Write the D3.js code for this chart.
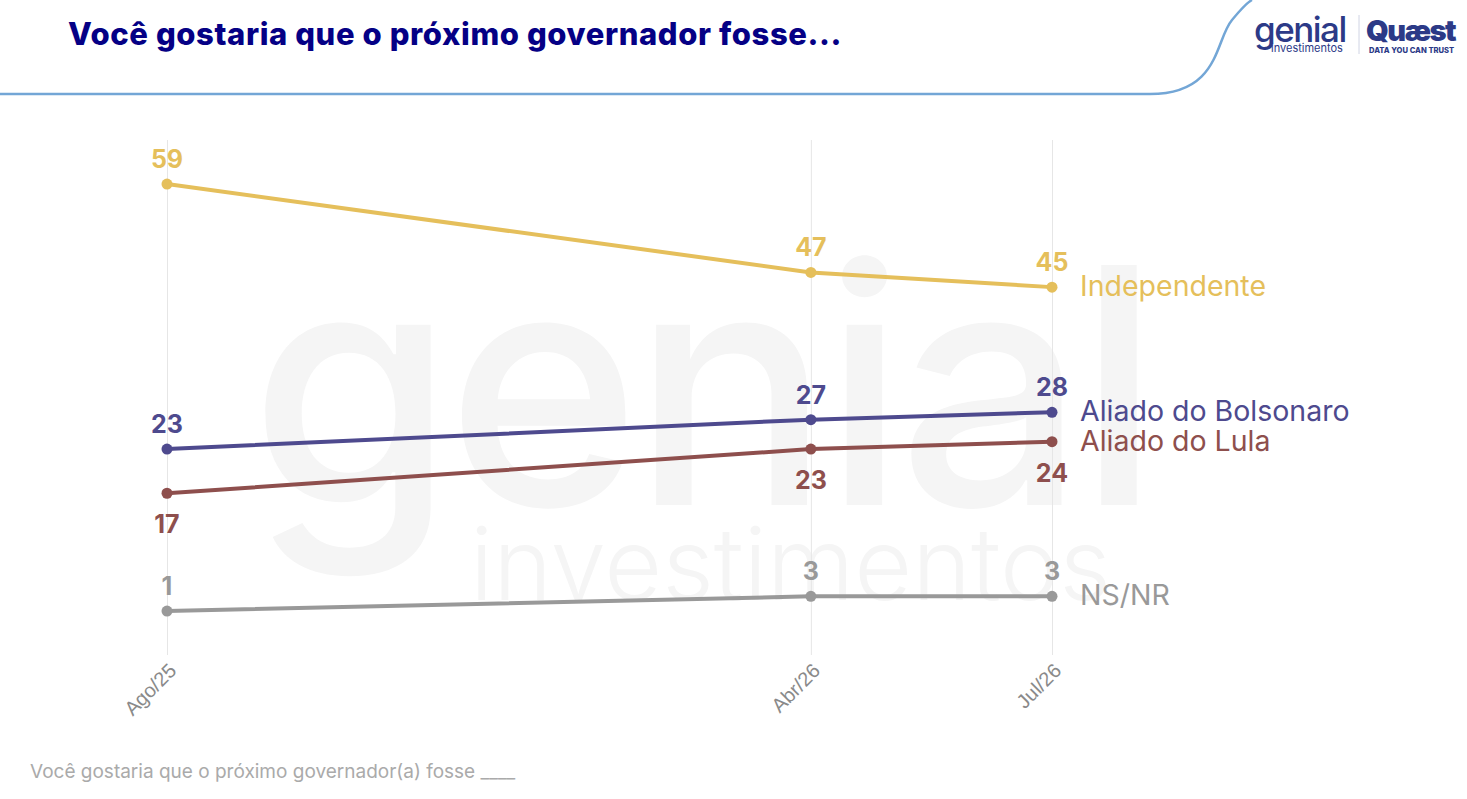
<!DOCTYPE html>
<html>
<head>
<meta charset="utf-8">
<script src="https://cdn.jsdelivr.net/npm/d3@7"></script>
<style>
  body { margin: 0; background: #fff; }
  svg { display: block; font-family: Inter, "Open Sans", sans-serif; }
</style>
</head>
<body>
<div id="chart"></div>
<script>
// data
const dates = ['2025-08-01', '2026-04-01', '2026-07-01'];
const tickLabels = ['Ago/25', 'Abr/26', 'Jul/26'];
const seriesNames = ['Independente', 'Aliado do Bolsonaro', 'Aliado do Lula', 'NS/NR'];
const independente = [59, 47, 45];
const bolsonaro = [23, 27, 28];
const lula = [17, 23, 24];
const nsnr = [1, 3, 3];
const colors = ['#E5BF5B', '#4E4A8E', '#8E4F4D', '#999999'];

const width = 1467, height = 799;
const parse = d3.timeParse('%Y-%m-%d');
const xDates = dates.map(parse);

const svg = d3.select('#chart').append('svg')
  .attr('width', width)
  .attr('height', height);

// header curve
svg.append('path')
  .attr('d', 'M0,94 L1150,94 C1220,94 1215,40 1232,20 C1242,8 1248,2 1252,0')
  .attr('fill', 'none')
  .attr('stroke', '#73A6D6')
  .attr('stroke-width', 2.5);

svg.append('text')
  .attr('x', 68).attr('y', 45)
  .attr('fill', '#050085')
  .attr('font-size', 31)
  .attr('font-weight', 800)
  .attr('font-family', 'Inter, sans-serif')
  .attr('letter-spacing', 0.6)
  .text('Você gostaria que o próximo governador fosse...');

// logos
const logo = svg.append('g');
logo.append('text').attr('x', 1254).attr('y', 42)
  .attr('fill', '#2C3A87').attr('font-size', 35).attr('font-weight', 500)
  .attr('font-family', 'Inter, sans-serif').attr('letter-spacing', -1.5).text('genial');
logo.append('text').attr('x', 1271).attr('y', 52)
  .attr('fill', '#2C3A87').attr('font-size', 11).attr('font-family', 'Inter, sans-serif')
  .text('investimentos');
logo.append('line').attr('x1', 1359).attr('x2', 1359).attr('y1', 15).attr('y2', 54)
  .attr('stroke', '#d0d4e4').attr('stroke-width', 1);
logo.append('text').attr('x', 1366).attr('y', 41)
  .attr('fill', '#2C3A87').attr('font-size', 29).attr('font-weight', 900)
  .attr('font-family', 'Inter, sans-serif').attr('letter-spacing', -1.5).text('Quæst');
logo.append('text').attr('x', 1369).attr('y', 53)
  .attr('fill', '#2C3A87').attr('font-size', 7.6).attr('font-weight', 800)
  .attr('font-family', 'Inter, sans-serif').text('DATA YOU CAN TRUST');

// watermark
const wm = svg.append('g').attr('fill', '#F5F5F5');
wm.append('text').attr('x', 250).attr('y', 505)
  .attr('font-size', 330).attr('font-weight', 500).attr('letter-spacing', -8)
  .attr('font-family', 'Inter, sans-serif').text('genial');
wm.append('text').attr('x', 470).attr('y', 600)
  .attr('font-size', 100).attr('font-weight', 300)
  .attr('font-family', 'Inter, sans-serif').text('investimentos');

// scales
const x = d3.scaleTime()
  .domain(d3.extent(xDates))
  .range([167, 1052]);
const y = d3.scaleLinear()
  .domain([0, 60])
  .range([618.4, 176.7]);

// gridlines / axis
const xAxis = svg.append('g')
  .attr('transform', 'translate(0,655)')
  .call(d3.axisBottom(x).tickValues(xDates).tickSize(-515)
    .tickFormat((d, i) => tickLabels[i]));
xAxis.select('.domain').remove();
xAxis.selectAll('.tick line').attr('stroke', '#e6e6e6');
xAxis.selectAll('.tick text')
  .attr('fill', '#8a8a8a')
  .attr('font-size', 20)
  .attr('text-anchor', 'end')
  .attr('y', 0)
  .attr('dy', 0)
  .attr('transform', 'translate(10,17) rotate(-45)');

const allSeries = [independente, bolsonaro, lula, nsnr];
const line = d3.line()
  .x((d, i) => x(xDates[i]))
  .y(d => y(d));

allSeries.forEach((vals, s) => {
  const g = svg.append('g');
  g.append('path')
    .datum(vals)
    .attr('fill', 'none')
    .attr('stroke', colors[s])
    .attr('stroke-width', 4)
    .attr('d', line);
  g.selectAll('circle').data(vals).join('circle')
    .attr('cx', (d, i) => x(xDates[i]))
    .attr('cy', d => y(d))
    .attr('r', 5.5)
    .attr('fill', colors[s]);
  const below = s === 2;
  g.selectAll('text.val').data(vals).join('text')
    .attr('class', 'val')
    .attr('x', (d, i) => x(xDates[i]))
    .attr('y', d => y(d) + (below ? 40 : -16))
    .attr('text-anchor', 'middle')
    .attr('fill', colors[s])
    .attr('font-size', 25)
    .attr('font-weight', 700)
    .text(d => d);
  g.append('text')
    .attr('x', 1080)
    .attr('y', y(vals[vals.length - 1]) + 9)
    .attr('fill', colors[s])
    .attr('font-size', 28.5)
    .text(seriesNames[s]);
});

// footnote
svg.append('text')
  .attr('x', 30).attr('y', 778)
  .attr('fill', '#aaaaaa')
  .attr('font-size', 19)
  .text('Você gostaria que o próximo governador(a) fosse ____');
</script>
</body>
</html>
